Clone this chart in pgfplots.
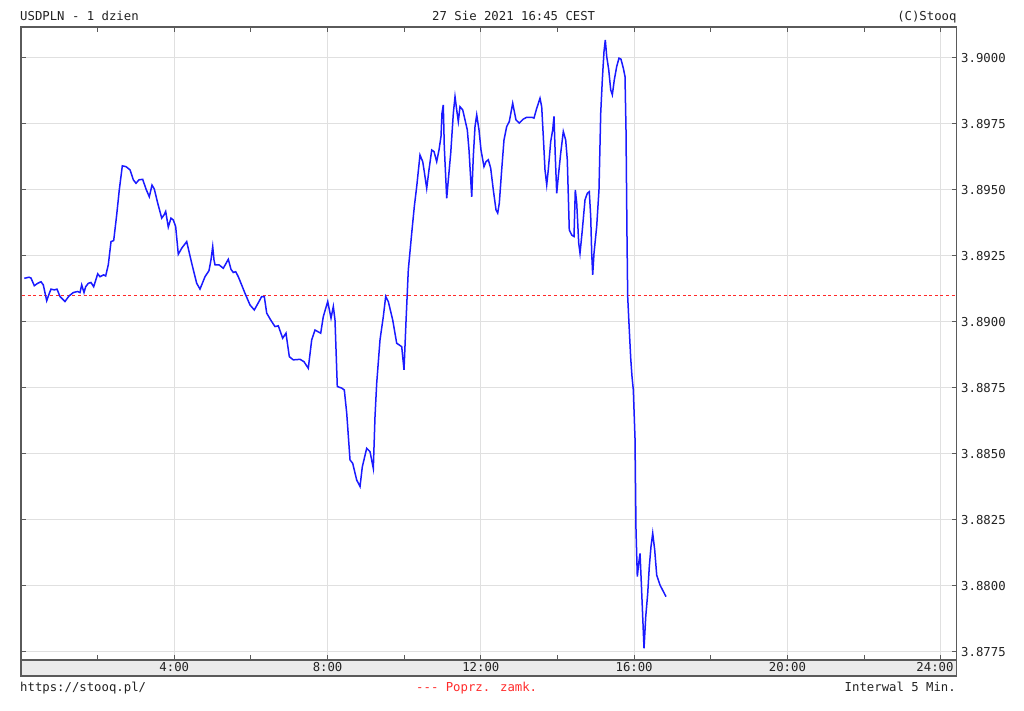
\documentclass[border=0pt]{standalone}
\usepackage{fontspec}
\setmainfont{DejaVu Sans Mono}[Ligatures={NoCommon}]
\usepackage{pgfplots}
\pgfplotsset{compat=1.18}
\usepackage{pgfplotstable}
\usetikzlibrary{decorations.markings}
\definecolor{gridc}{HTML}{E0E0E0}
\definecolor{axc}{HTML}{5A5A5A}
\definecolor{txt}{HTML}{222222}
\definecolor{stripc}{HTML}{EBEBEB}
\definecolor{closec}{HTML}{FF2A2A}
\definecolor{linec}{HTML}{1A1AFF}

\pgfplotstableread{
h v
0.086 3.89165
0.209 3.89169
0.261 3.89166
0.347 3.89137
0.436 3.89146
0.522 3.89152
0.582 3.89140
0.671 3.89080
0.739 3.89108
0.783 3.89124
0.869 3.89121
0.939 3.89124
1.018 3.89096
1.148 3.89077
1.253 3.89098
1.365 3.89111
1.480 3.89115
1.540 3.89111
1.584 3.89140
1.644 3.89111
1.688 3.89133
1.756 3.89146
1.827 3.89149
1.897 3.89133
2.002 3.89182
2.062 3.89171
2.158 3.89178
2.210 3.89174
2.278 3.89216
2.349 3.89304
2.419 3.89308
2.497 3.89405
2.565 3.89500
2.644 3.89591
2.740 3.89588
2.844 3.89576
2.931 3.89538
3.001 3.89525
3.079 3.89538
3.176 3.89540
3.262 3.89503
3.348 3.89474
3.419 3.89518
3.479 3.89503
3.567 3.89450
3.672 3.89393
3.732 3.89405
3.776 3.89418
3.844 3.89359
3.914 3.89393
3.974 3.89386
4.036 3.89361
4.105 3.89256
4.194 3.89279
4.324 3.89304
4.455 3.89222
4.585 3.89146
4.671 3.89124
4.802 3.89171
4.906 3.89194
4.958 3.89235
5.003 3.89285
5.036 3.89235
5.063 3.89216
5.167 3.89216
5.279 3.89203
5.410 3.89237
5.480 3.89199
5.540 3.89187
5.603 3.89190
5.671 3.89171
5.846 3.89108
5.976 3.89064
6.088 3.89045
6.211 3.89077
6.281 3.89096
6.349 3.89096
6.412 3.89033
6.516 3.89007
6.628 3.88982
6.714 3.88985
6.829 3.88938
6.915 3.88957
7.002 3.88868
7.106 3.88856
7.281 3.88858
7.385 3.88849
7.497 3.88824
7.586 3.88932
7.672 3.88969
7.821 3.88957
7.889 3.89020
8.004 3.89077
8.090 3.89014
8.150 3.89058
8.194 3.89007
8.254 3.88755
8.369 3.88749
8.437 3.88742
8.500 3.88654
8.586 3.88477
8.656 3.88464
8.760 3.88401
8.847 3.88376
8.907 3.88451
9.021 3.88521
9.108 3.88508
9.194 3.88445
9.238 3.88641
9.282 3.88767
9.369 3.88932
9.455 3.89020
9.517 3.89096
9.585 3.89077
9.700 3.89007
9.804 3.88919
9.935 3.88906
9.995 3.88818
10.047 3.89001
10.107 3.89197
10.196 3.89336
10.264 3.89437
10.326 3.89512
10.412 3.89632
10.483 3.89607
10.524 3.89569
10.587 3.89506
10.647 3.89576
10.718 3.89651
10.778 3.89645
10.848 3.89607
10.908 3.89651
10.960 3.89702
10.986 3.89790
11.020 3.89822
11.046 3.89664
11.109 3.89468
11.151 3.89538
11.214 3.89639
11.282 3.89790
11.326 3.89853
11.370 3.89803
11.412 3.89759
11.456 3.89815
11.527 3.89803
11.587 3.89765
11.647 3.89727
11.691 3.89651
11.762 3.89474
11.803 3.89626
11.848 3.89740
11.892 3.89784
11.952 3.89727
12.004 3.89651
12.082 3.89588
12.135 3.89607
12.195 3.89614
12.257 3.89582
12.325 3.89500
12.396 3.89424
12.440 3.89412
12.482 3.89450
12.544 3.89576
12.604 3.89689
12.675 3.89740
12.743 3.89759
12.831 3.89828
12.917 3.89765
13.004 3.89753
13.108 3.89768
13.197 3.89775
13.327 3.89775
13.387 3.89772
13.458 3.89809
13.544 3.89847
13.588 3.89815
13.630 3.89702
13.674 3.89576
13.719 3.89519
13.760 3.89576
13.823 3.89683
13.875 3.89727
13.909 3.89778
13.943 3.89626
13.980 3.89487
14.021 3.89550
14.084 3.89639
14.152 3.89721
14.214 3.89689
14.256 3.89614
14.308 3.89348
14.371 3.89329
14.431 3.89323
14.465 3.89500
14.502 3.89450
14.554 3.89298
14.588 3.89260
14.648 3.89348
14.718 3.89462
14.778 3.89487
14.830 3.89493
14.867 3.89399
14.893 3.89260
14.919 3.89178
14.953 3.89260
15.023 3.89361
15.083 3.89500
15.128 3.89790
15.170 3.89917
15.214 3.90024
15.248 3.90068
15.285 3.90005
15.337 3.89955
15.389 3.89879
15.431 3.89860
15.483 3.89917
15.545 3.89967
15.605 3.89999
15.657 3.89995
15.718 3.89961
15.762 3.89929
15.788 3.89727
15.814 3.89323
15.832 3.89096
15.874 3.88969
15.911 3.88862
15.945 3.88792
15.979 3.88742
16.023 3.88559
16.049 3.88212
16.083 3.88035
16.120 3.88085
16.154 3.88123
16.188 3.88010
16.224 3.87883
16.258 3.87763
16.303 3.87883
16.355 3.87972
16.396 3.88073
16.440 3.88148
16.485 3.88199
16.537 3.88136
16.589 3.88041
16.675 3.88003
16.832 3.87959
}\usdpln

\pgfplotstableread{
h v
0 3.8910
24.418 3.8910
}\prevclose

\begin{document}
\begin{tikzpicture}[font=\fontsize{12.3}{14}\selectfont, x=1pt, y=1pt]
\path (0,0) rectangle (1024,711);
\fill[stripc] (21,35) rectangle (956.7,51);
\draw[axc, line width=1.3pt] (21,35) rectangle (956.7,51);
\begin{axis}[
  at={(21pt,51pt)}, anchor=south west,
  scale only axis, width=935.7pt, height=633pt,
  xmin=0, xmax=24.418, ymin=3.87719, ymax=3.90117,
  xtick={4,8,12,16,20,24},
  xticklabels={4:00,8:00,12:00,16:00,20:00,{\hspace*{-11.4pt}24:00}},
  minor xtick={2,6,10,14,18,22},
  ytick={3.8775,3.88,3.8825,3.885,3.8875,3.89,3.8925,3.895,3.8975,3.9},
  yticklabels={3.8775,3.8800,3.8825,3.8850,3.8875,3.8900,3.8925,3.8950,3.8975,3.9000},
  yticklabel pos=right,
  tick align=inside,
  major tick length=5pt, minor tick length=5pt,
  xmajorgrids, ymajorgrids,
  grid style={gridc, line width=1.2pt},
  axis line style={axc, line width=1.4pt},
  tick style={axc, line width=1pt},
  xticklabel style={anchor=base, yshift=-12pt, text=txt},
  yticklabel style={anchor=west, xshift=1pt, text=txt},
  clip=false,
]
\addplot[draw=none, mark=none, postaction={decorate},
  decoration={markings, mark=between positions 0.001 and 1 step 5.6pt with {\draw[closec, line width=1.3pt] (0pt,0pt) -- (3pt,0pt);}}]
  table[x=h, y=v]{\prevclose};
\addplot[draw=linec, line width=1.5pt, mark=none] table[x=h, y=v]{\usdpln};
\end{axis}
\node[anchor=base west, inner sep=0, text=txt] at (20,690.5) {USDPLN - 1 dzien};
\node[anchor=base, inner sep=0, text=txt] at (513.7,690.5) {27 Sie 2021 16:45 CEST};
\node[anchor=base east, inner sep=0, text=txt] at (956.7,690.5) {(C)Stooq};
\node[anchor=base west, inner sep=0, text=txt] at (20,19.3) {https://stooq.pl/};
\node[anchor=base west, inner sep=0, text=closec] at (416,19.3) {{-}{-}{-} Poprz. zamk.};
\node[anchor=base east, inner sep=0, text=txt] at (956,19.3) {Interwal 5 Min.};
\end{tikzpicture}
\end{document}
